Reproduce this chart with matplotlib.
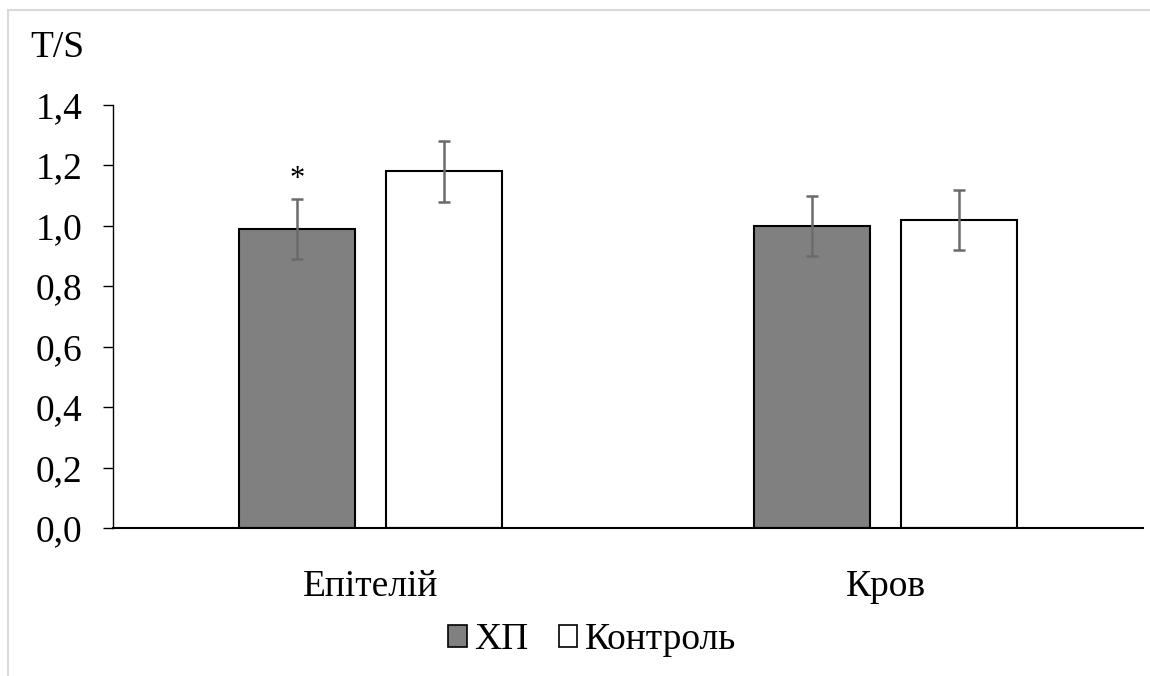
import matplotlib
matplotlib.use("Agg")
import matplotlib.pyplot as plt
from matplotlib import font_manager as fm
from matplotlib.patches import Patch, Rectangle
import numpy as np

categories = ["Епітелій", "Кров"]
series_names = ["ХП", "Контроль"]
hp_values = [0.99, 1.00]
hp_errors = [0.10, 0.10]
ctrl_values = [1.18, 1.02]
ctrl_errors = [0.10, 0.10]
y_ticks = [0.0, 0.2, 0.4, 0.6, 0.8, 1.0, 1.2, 1.4]
y_tick_labels = ["0,0", "0,2", "0,4", "0,6", "0,8", "1,0", "1,2", "1,4"]
y_label = "T/S"
significance = ["*", ""]

serif_path = fm.findfont(fm.FontProperties(family='Liberation Serif'))
def fp(size):
    return fm.FontProperties(fname=serif_path, size=size)

fig = plt.figure(figsize=(11.5, 6.76), dpi=100)
ax = fig.add_axes([113/1150, 1 - 528/676, (1143-113)/1150, (528-105)/676])

x = np.arange(len(categories))
bw = 0.225
off = 0.1427
err_kw = dict(ecolor="#6b6b6b", elinewidth=1.8, capsize=4.5, capthick=1.8)
ax.bar(x - off, hp_values, bw, color="#808080", edgecolor="black", linewidth=1.5,
       yerr=hp_errors, error_kw=err_kw, zorder=2)
ax.bar(x + off, ctrl_values, bw, color="white", edgecolor="black", linewidth=1.5,
       yerr=ctrl_errors, error_kw=err_kw, zorder=2)

for i, s in enumerate(significance):
    if s:
        ax.text(x[i] - off, hp_values[i] + hp_errors[i] + 0.015, s, ha="center",
                va="bottom", fontproperties=fp(22))

ax.set_xlim(-0.5, len(categories) - 0.5)
ax.set_ylim(0, 1.4)
ax.set_yticks(y_ticks)
ax.set_yticklabels(y_tick_labels, fontproperties=fp(27))
ax.set_xticks(x)
ax.set_xticklabels(categories, fontproperties=fp(27))
ax.tick_params(axis="y", length=7, width=1.0, pad=15, direction="out")
ax.tick_params(axis="x", length=0, pad=30)
for s in ["top", "right"]:
    ax.spines[s].set_visible(False)
ax.spines["left"].set_linewidth(1.0)
ax.spines["bottom"].set_linewidth(1.5)

fig.text(57/1150, 1 - 48/676, y_label, ha="center", va="center", fontproperties=fp(27))

handles = [Patch(facecolor="#808080", edgecolor="black", linewidth=1.2),
           Patch(facecolor="white", edgecolor="black", linewidth=1.2)]
fig.legend(handles, series_names, loc="center", bbox_to_anchor=(592/1150, 1 - 640/676),
           ncol=2, frameon=False, prop=fp(27),
           handlelength=0.5, handleheight=0.5, handletextpad=0.2, columnspacing=0.8)

fig.add_artist(Rectangle((8/1150, -0.05), 1.2, (676-10)/676 + 0.05, transform=fig.transFigure,
                         fill=False, edgecolor="#d9d9d9", linewidth=1.5))

fig.savefig("out.png", dpi=100)
